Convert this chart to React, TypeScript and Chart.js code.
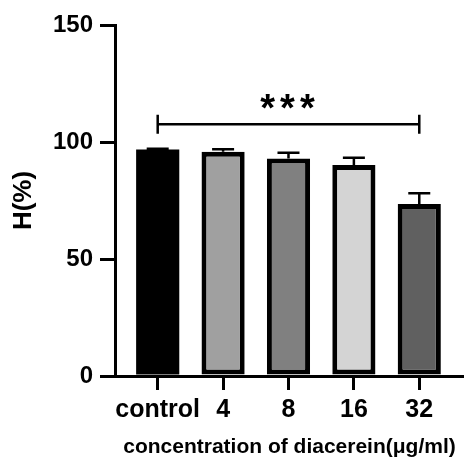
import React, { useEffect, useRef } from 'react';
import { Chart, registerables } from 'chart.js';

Chart.register(...registerables);

const categories = ['control', '4', '8', '16', '32'];
const means = [96.8, 95.8, 93.0, 90.2, 73.5];
const errors = [0.3, 1.1, 2.4, 3.1, 4.6];
const barColors = ['#000000', '#a0a0a0', '#808080', '#d4d4d4', '#606060'];
const yTicks = [0, 50, 100, 150];
const sigFrom = 0;
const sigTo = 4;
const sigLevel = 107.6;
const sigLabel = '***';
const xTitle = 'concentration of diacerein(μg/ml)';
const yTitle = 'H(%)';

const FONT = "'Liberation Sans', Arial, Helvetica, sans-serif";
const W = 464;
const H = 467;

const annotationPlugin = {
  id: 'annotations',
  afterDatasetsDraw(chart: any) {
    const { ctx, scales } = chart;
    const x = scales.x;
    const y = scales.y;
    ctx.save();
    ctx.strokeStyle = '#000';
    ctx.lineWidth = 2.5;
    ctx.lineCap = 'butt';
    means.forEach((m, i) => {
      const px = x.getPixelForValue(i);
      const base = y.getPixelForValue(m);
      const top = y.getPixelForValue(m + errors[i]);
      ctx.beginPath();
      ctx.moveTo(px, base);
      ctx.lineTo(px, top);
      ctx.moveTo(px - 11, top);
      ctx.lineTo(px + 11, top);
      ctx.stroke();
    });
    const x0 = x.getPixelForValue(sigFrom);
    const x1 = x.getPixelForValue(sigTo);
    const yb = y.getPixelForValue(sigLevel);
    ctx.lineWidth = 2.5;
    ctx.beginPath();
    ctx.moveTo(x0, yb);
    ctx.lineTo(x1, yb);
    ctx.moveTo(x0, yb - 9.5);
    ctx.lineTo(x0, yb + 9.5);
    ctx.moveTo(x1, yb - 9.5);
    ctx.lineTo(x1, yb + 9.5);
    ctx.stroke();
    ctx.fillStyle = '#000';
    ctx.font = `bold 38px ${FONT}`;
    const spacing = 5;
    (ctx as any).letterSpacing = `${spacing}px`;
    ctx.textAlign = 'center';
    ctx.textBaseline = 'alphabetic';
    const mt = ctx.measureText(sigLabel);
    const centerY = yb - 23;
    const baseY = centerY + (mt.actualBoundingBoxAscent - mt.actualBoundingBoxDescent) / 2;
    ctx.fillText(sigLabel, (x0 + x1) / 2 + spacing / 2 - 1, baseY);
    ctx.restore();
  },
};

export default function App() {
  const ref = useRef<HTMLCanvasElement | null>(null);
  useEffect(() => {
    if (!ref.current) return;
    const chart = new Chart(ref.current, {
      type: 'bar',
      data: {
        datasets: [
          {
            data: means.map((v, i) => ({ x: i, y: v })) as any,
            backgroundColor: barColors,
            borderColor: '#000',
            borderWidth: barColors.map((c) => (c === '#000000' ? 0 : 5)),
            borderSkipped: false,
            barPercentage: 0.66,
            categoryPercentage: 1,
          },
        ],
      },
      options: {
        animation: false,
        responsive: false,
        maintainAspectRatio: false,
        devicePixelRatio: 1,
        layout: { padding: { top: 25, left: 0, right: 0, bottom: 0 } },
        plugins: { legend: { display: false }, tooltip: { enabled: false } },
        scales: {
          x: {
            type: 'linear',
            offset: false,
            min: -0.653,
            max: 4.684,
            afterBuildTicks: (scale: any) => {
              scale.ticks = categories.map((_, i) => ({ value: i }));
            },
            afterFit: (scale: any) => {
              scale.height = 91;
            },
            ticks: {
              callback: (v: any) => categories[v as number] ?? '',
              color: '#000',
              font: { family: FONT, size: 25, weight: 'bold' },
              padding: 5,
              maxRotation: 0,
              autoSkip: false,
            },
            grid: {
              offset: false,
              drawOnChartArea: false,
              drawTicks: true,
              tickLength: 14,
              lineWidth: 3,
              tickColor: '#000',
              color: '#000',
            },
            border: { display: true, color: '#000', width: 3 },
            title: {
              display: true,
              text: xTitle,
              color: '#000',
              font: { family: FONT, size: 21, weight: 'bold' },
              padding: { top: 0, bottom: 7 },
            },
          },
          y: {
            type: 'linear',
            min: 0,
            max: 150,
            afterBuildTicks: (scale: any) => {
              scale.ticks = yTicks.map((v) => ({ value: v }));
            },
            afterFit: (scale: any) => {
              scale.width = 115;
            },
            ticks: {
              color: '#000',
              font: { family: FONT, size: 24, weight: 'bold' },
              padding: 7,
            },
            grid: {
              drawOnChartArea: false,
              drawTicks: true,
              tickLength: 15,
              lineWidth: 3,
              tickColor: '#000',
              color: '#000',
            },
            border: { display: true, color: '#000', width: 3 },
            title: {
              display: true,
              text: yTitle,
              color: '#000',
              font: { family: FONT, size: 26, weight: 'bold' },
              padding: { top: 8, bottom: 0 },
            },
          },
        },
      },
      plugins: [annotationPlugin],
    });
    return () => chart.destroy();
  }, []);
  return (
    <div style={{ position: 'absolute', left: 0, top: 0, width: W, height: H, background: '#fff' }}>
      <canvas ref={ref} width={W} height={H} style={{ width: W, height: H, display: 'block' }} />
    </div>
  );
}
